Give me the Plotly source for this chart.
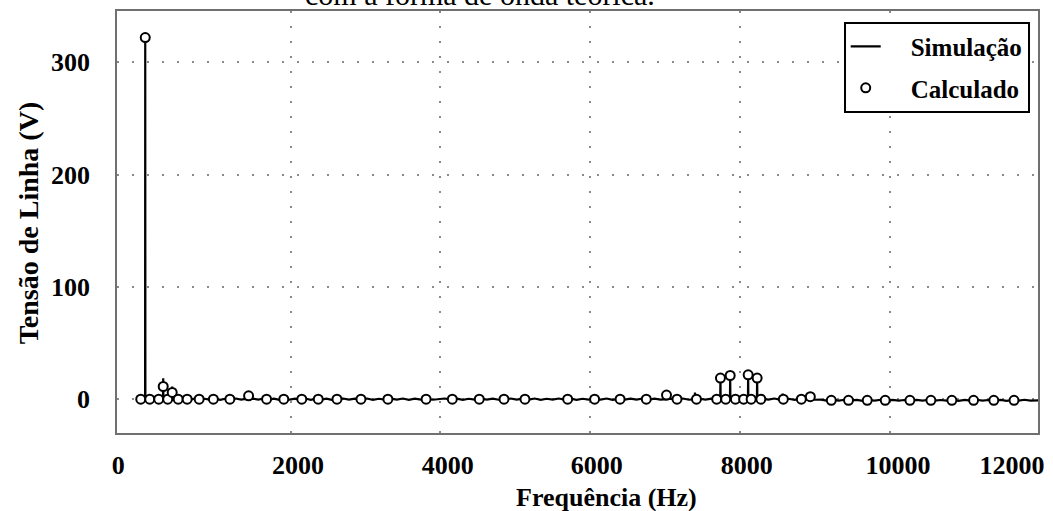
import plotly.graph_objects as go

# ---------------- data ----------------
sim_freq = [0, 30, 58, 60, 62, 110, 170, 230, 297, 300, 303, 335, 390, 417, 420, 423,
            480, 540, 600, 660, 720, 790, 850, 920, 990,
            1060, 1130, 1200, 1270, 1340, 1400, 1437, 1440, 1443, 1500, 1570, 1640, 1710, 1780, 1850, 1920, 1990,
            2060, 2130, 2200, 2270, 2340, 2410, 2480, 2550, 2620, 2700, 2780, 2860, 2940, 3020, 3100, 3180,
            3260, 3340, 3420, 3500, 3580, 3660, 3740, 3820, 3900, 3980,
            4060, 4140, 4220, 4300, 4380, 4460, 4540, 4620, 4700, 4780, 4860, 4940, 5020, 5100, 5180, 5260,
            5340, 5420, 5500, 5580, 5660, 5740, 5820, 5900, 5980,
            6060, 6140, 6220, 6300, 6380, 6460, 6540, 6620, 6700, 6780, 6860, 6940, 7017, 7020, 7023,
            7080, 7160, 7240, 7320, 7397, 7400, 7403, 7460, 7540, 7620, 7690,
            7737, 7740, 7743, 7800, 7867, 7870, 7873, 7940, 8020, 8107, 8110, 8113, 8170, 8227, 8230, 8233,
            8300, 8380, 8460, 8530, 8567, 8570, 8573, 8650, 8730, 8800, 8870, 8937, 8940, 8943, 9000,
            9080, 9160, 9240, 9320, 9400, 9480, 9560, 9640, 9720, 9800, 9880, 9960,
            10040, 10120, 10200, 10280, 10360, 10440, 10520, 10600, 10680, 10760, 10840, 10920,
            11000, 11080, 11160, 11240, 11320, 11400, 11480, 11560, 11640, 11720, 11800, 11880, 11960, 12000]
sim_volt = [0, 0.4, 0, 322, 0, 0.3, -0.4, 0.5, 0, 18.7, 0, 0.4, -0.3, 0, 11.3, 0,
            0.5, -0.4, 0.6, -0.3, 0.5, -0.5, 0.4, -0.3, 0.5,
            -0.5, 0.4, -0.3, 0.6, -0.4, 0.3, 0, 3.0, 0, 0.5, -0.4, 0.6, -0.3, 0.5, -0.5, 0.4, -0.3,
            0.5, -0.4, 0.6, -0.5, 0.4, -0.3, 0.5, -0.5, 0.3, 0.6, -0.4, 0.5, -0.3, 0.6, -0.5, 0.4,
            -0.3, 0.5, -0.4, 0.6, -0.5, 0.5, -0.3, 0.4, -0.5, 0.3,
            0.6, -0.4, 0.5, -0.5, 0.4, -0.3, 0.6, -0.4, 0.5, -0.5, 0.3, 0.6, -0.4, 0.5, -0.3, 0.6,
            -0.5, 0.4, -0.4, 0.6, -0.3, 0.5, -0.5, 0.4, -0.3,
            0.5, -0.4, 0.6, -0.5, 0.3, -0.4, 0.5, -0.3, 0.6, -0.4, 0.5, -0.3, 0, 3.7, 0,
            0.5, -0.4, 0.6, -0.5, 0, 6.0, 0, 0.4, -0.3, 0.5, -0.3,
            0, 18.8, 0, 0.4, 0, 21.1, 0, -0.4, 0.5, 0, 21.7, 0, -0.3, 0, 18.8, 0,
            0.5, -0.4, 0.6, -0.3, 0, 5.0, 0, 0.4, -0.5, 0.5, -0.4, 0, 2.2, 0, -0.5,
            -0.4, -1.2, -0.6, -1.3, -0.5, -1.2, -0.6, -1.4, -0.7, -1.2, -0.5, -1.3,
            -0.6, -1.2, -0.7, -1.4, -0.6, -1.2, -0.5, -1.3, -0.7, -1.2, -0.6, -1.4,
            -0.6, -1.2, -0.5, -1.3, -0.7, -1.2, -0.6, -1.4, -0.7, -1.2, -0.5, -1.3, -0.8, -1.0]

calc_freq = [0, 60, 120, 240, 300, 360, 420, 500, 620, 780, 970, 1190, 1440, 1680, 1910, 2150,
             2370, 2620, 2940, 3300, 3810, 4160, 4520, 4850, 5130, 5700, 6060, 6400, 6750,
             7020, 7160, 7420, 7690, 7740, 7810, 7870, 7940, 8050, 8110, 8150, 8230, 8280,
             8580, 8820, 8940, 9220, 9450, 9700, 9940, 10270, 10550, 10830, 11120, 11390, 11660]
calc_volt = [0, 322, 0, 0, 11.3, 0, 6.0, 0, 0, 0, 0, 0, 3.0, 0, 0, 0,
             0, 0, 0, 0, 0, 0, 0, 0, 0, 0, 0, 0, 0,
             3.7, 0, 0, 0, 18.8, 0, 21.1, 0, 0, 21.7, 0, 18.8, 0,
             0, 0, 2.2, -1, -1, -1, -1, -1, -1, -1, -1, -1, -1]

x_tick_text = ["0", "2000", "4000", "6000", "8000", "10000", "12000"]
x_grid_vals = [2000, 4000, 6000, 8000, 10000]
y_tick_vals = [0, 100, 200, 300]

# ---------------- layout constants ----------------
X_RANGE = [-317, 11980]
Y_RANGE = [-30.1, 345.7]
X_LABEL_POS = [-300, 2100, 4100, 6090, 8090, 10110, 11633]
FONT = "Liberation Serif"
GRID = dict(showgrid=True, gridcolor="#8a8a8a", gridwidth=1.5, griddash="2px,13px")
PAD = "\u00a0\u00a0\u00a0\u00a0"

fig = go.Figure()
fig.add_trace(go.Scatter(x=sim_freq, y=sim_volt, mode="lines", name=PAD + "Simulação",
                         legendgroup="a", line=dict(color="black", width=2.2)))
fig.add_trace(go.Scatter(x=calc_freq, y=calc_volt, mode="markers", name=PAD + "Calculado",
                         legendgroup="b",
                         marker=dict(symbol="circle", size=9, color="white",
                                     line=dict(color="black", width=2))))
fig.add_trace(go.Scatter(x=[], y=[], xaxis="x2", showlegend=False, hoverinfo="skip"))

fig.update_layout(
    width=1053, height=511,
    margin=dict(l=117, r=14, t=9, b=78),
    paper_bgcolor="white", plot_bgcolor="white",
    font=dict(family=FONT, color="black"),
    xaxis=dict(range=X_RANGE, tickvals=x_grid_vals, showticklabels=False, ticks="",
               zeroline=False, showline=True, mirror=True, linecolor="#707070", linewidth=1.5,
               **GRID),
    xaxis2=dict(range=X_RANGE, overlaying="x", anchor="y", side="bottom", showgrid=False,
                zeroline=False, showline=False, ticks="", tickvals=X_LABEL_POS,
                ticktext=x_tick_text, ticklabelstandoff=14,
                tickfont=dict(family=FONT, size=26, weight="bold", color="black")),
    yaxis=dict(range=Y_RANGE, tickvals=y_tick_vals, ticks="", zeroline=False,
               showline=True, mirror=True, linecolor="#707070", linewidth=1.5,
               ticklabelstandoff=20,
               tickfont=dict(family=FONT, size=26, weight="bold", color="black"), **GRID),
    legend=dict(x=0.991, y=0.975, xanchor="right", yanchor="top",
                bordercolor="black", borderwidth=2, bgcolor="white",
                font=dict(family=FONT, size=25, weight="bold", color="black"),
                tracegroupgap=6, itemwidth=30),
    showlegend=True,
    annotations=[
        dict(text="Frequência (Hz)", xref="paper", yref="paper", x=0.532, y=-0.153,
             xanchor="center", yanchor="middle", showarrow=False,
             font=dict(family=FONT, size=26, weight="bold")),
        dict(text="Tensão de Linha (V)", xref="paper", yref="paper", x=-0.0962, y=0.498,
             xanchor="center", yanchor="middle", textangle=-90, showarrow=False,
             font=dict(family=FONT, size=28, weight="bold")),
        dict(text="com a forma de onda teórica.", xref="paper", yref="paper", x=0.394, y=0.9953,
             xanchor="center", yanchor="bottom", showarrow=False,
             font=dict(family=FONT, size=30)),
    ],
)

fig.write_html("out.html", config={"displayModeBar": False},
               post_script="document.body.style.margin='0px';")
